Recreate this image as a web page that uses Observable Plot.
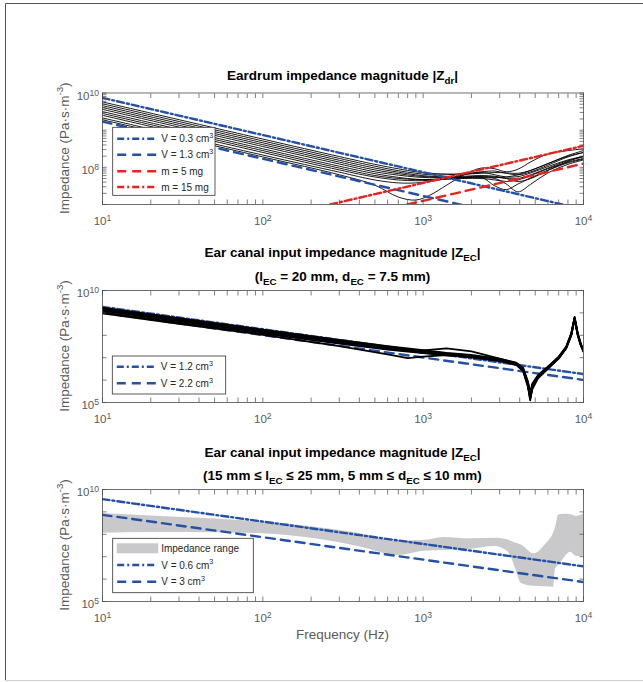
<!DOCTYPE html>
<html><head><meta charset="utf-8">
<script src="https://cdn.jsdelivr.net/npm/d3@7"></script>
<script src="https://cdn.jsdelivr.net/npm/@observablehq/plot@0.6"></script>
<style>
body{margin:0;background:#fff;}
#fig{position:relative;width:643px;height:682px;overflow:hidden;background:#fff;}
</style></head>
<body><div id="fig"></div>
<script>
// ---------- data ----------
const xTickLabels = [10, 100, 1000, 10000];
const yLabels1 = [1e8, 1e10];
const yLabels23 = [1e5, 1e10];
const yDecades23 = [1e5, 1e6, 1e7, 1e8, 1e9, 1e10];

// Panel 1: eardrum impedance curves (log10 of |Z|)
const drumFreq = [10,100,300,500,700,900,1100,1400,1800,2300,2800,3300,3900,4700,6000,8000,10000];
const drumLog = [
  [9.76,8.76,8.29,8.08,7.96,7.88,7.84,7.82,7.82,7.84,7.86,7.85,7.84,7.92,8.10,8.32,8.45],
  [9.71,8.71,8.24,8.03,7.91,7.84,7.80,7.80,7.83,7.88,7.90,7.84,7.80,7.88,8.06,8.28,8.40],
  [9.66,8.66,8.19,7.98,7.87,7.80,7.76,7.75,7.76,7.78,7.76,7.70,7.62,7.70,7.92,8.16,8.30],
  [9.61,8.61,8.14,7.93,7.83,7.77,7.74,7.73,7.72,7.72,7.70,7.55,7.34,7.55,7.85,8.08,8.20],
  [9.56,8.56,8.09,7.88,7.79,7.74,7.72,7.72,7.73,7.74,7.73,7.74,7.80,7.92,8.10,8.30,8.40],
  [9.50,8.50,8.03,7.83,7.73,7.68,7.67,7.69,7.72,7.75,7.74,7.70,7.70,7.80,7.98,8.18,8.28],
  [9.45,8.45,7.98,7.78,7.70,7.67,7.67,7.70,7.74,7.74,7.50,7.40,7.55,7.72,7.92,8.12,8.22],
  [9.40,8.40,7.93,7.74,7.66,7.64,7.65,7.68,7.70,7.70,7.66,7.62,7.66,7.78,7.96,8.14,8.24],
  [9.33,8.33,7.87,7.66,7.58,7.58,7.62,7.70,7.80,7.86,7.80,7.74,7.75,7.85,8.02,8.20,8.30],
  [9.28,8.28,7.80,7.52,7.20,7.12,7.25,7.52,7.80,7.98,7.96,7.88,7.95,8.15,8.36,8.45,8.50]
];
const drumV03 = {f: [10, 10000], z: [7.4e9, 7.4e6]};
const drumV13 = {f: [10, 10000], z: [1.7e9, 1.7e6]};
const drumM5  = {f: [795, 10000], z: [1e7, 1.26e8]};
const drumM15 = {f: [263, 10000], z: [1e7, 3.8e8]};

// Panel 2: ear canal input impedance (log10 of |Z|)
const canalFreq = [10,30,100,300,600,800,1000,1400,2000,3000,3800,4200,4500,4650,4800,5200,6000,7000,7800,8400,8800,9200,9600,10000];
const canalLog = [
  [9.24,8.77,8.25,7.79,7.52,7.42,7.34,7.22,7.12,6.95,6.78,6.55,5.95,5.45,5.85,6.22,6.60,7.04,7.50,8.10,8.82,8.10,7.64,7.34],
  [9.19,8.72,8.20,7.75,7.48,7.38,7.30,7.19,7.09,6.92,6.75,6.50,5.85,5.30,5.78,6.18,6.58,7.02,7.47,8.07,8.78,8.07,7.62,7.32],
  [9.14,8.67,8.16,7.71,7.44,7.34,7.26,7.16,7.06,6.90,6.72,6.47,5.80,5.15,5.72,6.15,6.55,7.00,7.45,8.05,8.76,8.05,7.60,7.30],
  [9.09,8.62,8.12,7.67,7.40,7.30,7.22,7.13,7.03,6.87,6.70,6.44,5.75,5.10,5.66,6.12,6.53,6.98,7.43,8.03,8.74,8.03,7.58,7.28],
  [9.02,8.56,8.07,7.63,7.36,7.27,7.20,7.11,7.01,6.85,6.68,6.40,5.70,5.20,5.60,6.08,6.50,6.96,7.41,8.00,8.72,8.00,7.56,7.26],
  [8.98,8.51,8.02,7.52,7.15,6.98,7.05,7.12,7.06,6.90,6.72,6.46,5.78,5.25,5.70,6.13,6.54,6.99,7.44,8.04,8.75,8.04,7.59,7.29],
  [9.17,8.70,8.18,7.72,7.44,7.36,7.33,7.42,7.28,6.96,6.76,6.52,5.88,5.35,5.80,6.20,6.59,7.03,7.48,8.08,8.80,8.08,7.63,7.33]
];
const canalV12 = {f: [10, 10000], z: [1.86e9, 1.86e6]};
const canalV22 = {f: [10, 10000], z: [1.02e9, 1.02e6]};

// Panel 3: impedance range band (log10 of |Z|)
const rangeFreq = [10,20,50,100,200,400,700,1000,1350,2000,2800,3400,3800,4100,4900,5800,6500,6700,7000,7500,8300,9000,10000];
const rangeHighLog = [8.93,8.82,8.68,8.55,8.34,8.04,7.70,7.72,7.86,7.80,7.82,7.74,7.60,7.52,7.13,7.55,8.05,8.30,8.86,8.90,8.88,8.80,8.90];
const rangeLowLog  = [8.05,8.08,8.07,8.03,7.82,7.44,7.05,7.24,7.28,7.33,7.45,7.20,6.40,5.80,5.68,5.66,5.64,6.45,6.62,6.90,7.20,7.02,7.00];
const rangeV06 = {f: [10, 10000], z: [3.7e9, 3.7e6]};
const rangeV3  = {f: [10, 10000], z: [7.4e8, 7.4e5]};

// ---------- styling ----------
const FONT = '"Liberation Sans", Arial, Helvetica, sans-serif';
const BLUE = "#2451a6", RED = "#e8221f", GRAY = "#c9c9cb", AXIS = "#4a4a4a", TXT = "#5a5a5a";
const DASH = "9,6", DASHDOT = "7,3,2,3";
const LW = 2.4;

const toRows = s => s.f.map((f, i) => ({f, z: s.z[i]}));
const curveRows = (freq, logs) => logs.flatMap((c, k) => c.map((v, i) => ({id: k, f: freq[i], z: 10 ** v})));
const straight = (s, stroke, dash) => Plot.line(toRows(s), {x: "f", y: "z", stroke, strokeWidth: LW, strokeDasharray: dash, clip: true});

const fig = document.getElementById("fig");

function addPanel({top, bottom, yDomain, yTicks, yLabels, marks}) {
  const svg = Plot.plot({
    width: 643, height: 682,
    marginLeft: 102, marginRight: 60, marginTop: top, marginBottom: 682 - bottom,
    x: {type: "log", domain: [10, 1e4]},
    y: {type: "log", domain: yDomain},
    style: {background: "transparent", fontFamily: FONT, fontSize: "11.5px", color: TXT, overflow: "visible"},
    marks: [
      ...marks,
      Plot.frame({stroke: AXIS, strokeWidth: 0.8}),
      Plot.axisX({anchor: "bottom", tickSize: 4.5, dy: -4.5, tickFormat: () => "", label: null, stroke: AXIS, strokeWidth: 0.7}),
      Plot.axisX({anchor: "top", tickSize: 4.5, dy: 4.5, tickFormat: () => "", label: null, stroke: AXIS, strokeWidth: 0.7}),
      Plot.axisY({anchor: "left", ticks: yTicks, tickSize: 4.5, dx: 4.5, tickFormat: () => "", label: null, stroke: AXIS, strokeWidth: 0.7}),
      Plot.axisY({anchor: "right", ticks: yTicks, tickSize: 4.5, dx: -4.5, tickFormat: () => "", label: null, stroke: AXIS, strokeWidth: 0.7}),
      Plot.axisX({anchor: "bottom", ticks: xTickLabels, tickSize: 0, tickPadding: 12.5, tickFormat: d => "10^" + Math.round(Math.log10(d)), label: null, fill: TXT}),
      Plot.axisY({anchor: "left", ticks: yLabels, tickSize: 0, tickPadding: 3.5, dy: 3, tickFormat: d => "10^" + Math.round(Math.log10(d)), label: null, fill: TXT})
    ]
  });
  d3.select(svg).selectAll("text").each(function() {
    const m = /^10\^(\d+)$/.exec(this.textContent);
    if (!m) return;
    const sel = d3.select(this);
    sel.text(null);
    sel.append("tspan").text("10");
    sel.append("tspan").attr("dy", "-0.45em").attr("font-size", "0.75em").text(m[1]);
  });
  svg.style.position = "absolute"; svg.style.left = "0px"; svg.style.top = "0px";
  fig.appendChild(svg);
}

// Panel 1
addPanel({
  top: 92.5, bottom: 204, yDomain: [1e7, 1e10], yTicks: 10, yLabels: yLabels1,
  marks: [
    Plot.line(curveRows(drumFreq, drumLog), {x: "f", y: "z", z: "id", stroke: "#000", strokeWidth: 0.9, curve: "catmull-rom", clip: true}),
    straight(drumV03, BLUE, DASHDOT),
    straight(drumV13, BLUE, DASH),
    straight(drumM5, RED, DASH),
    straight(drumM15, RED, DASHDOT)
  ]
});
// Panel 2
addPanel({
  top: 290, bottom: 402, yDomain: [1e5, 1e10], yTicks: yDecades23, yLabels: yLabels23,
  marks: [
    straight(canalV12, BLUE, DASHDOT),
    straight(canalV22, BLUE, DASH),
    Plot.line(curveRows(canalFreq, canalLog), {x: "f", y: "z", z: "id", stroke: "#000", strokeWidth: 1.8, curve: "linear", clip: true})
  ]
});
// Panel 3
addPanel({
  top: 489, bottom: 601, yDomain: [1e5, 1e10], yTicks: yDecades23, yLabels: yLabels23,
  marks: [
    Plot.areaY(rangeFreq.map((f, i) => ({f, lo: 10 ** rangeLowLog[i], hi: 10 ** rangeHighLog[i]})), {x: "f", y1: "lo", y2: "hi", fill: GRAY, curve: "monotone-x", clip: true}),
    straight(rangeV06, BLUE, DASHDOT),
    straight(rangeV3, BLUE, DASH)
  ]
});

// ---------- overlay: titles, labels, legends ----------
const ov = d3.select(fig).append("svg")
  .attr("width", 643).attr("height", 682)
  .style("position", "absolute").style("left", "0px").style("top", "0px")
  .attr("font-family", FONT);

ov.append("path").attr("d", "M5.5,681 V3.5 H643").attr("fill", "none").attr("stroke", "#555").attr("stroke-width", 1);
ov.append("line").attr("x1", 5).attr("x2", 643).attr("y1", 680.5).attr("y2", 680.5).attr("stroke", "#d0d0d0");

function rich(g, segs, size, opts = {}) {
  const t = g.append("text").attr("font-size", size).attr("text-anchor", opts.anchor || "middle")
    .attr("fill", opts.fill || "#000").attr("font-weight", opts.weight || "normal");
  if (opts.transform) t.attr("transform", opts.transform); else t.attr("x", opts.x).attr("y", opts.y);
  let shift = 0;
  for (const [txt, kind] of segs) {
    const ts = t.append("tspan").text(txt);
    const target = kind === "sub" ? size * 0.3 : kind === "sup" ? -size * 0.42 : 0;
    if (target !== shift) ts.attr("dy", target - shift);
    shift = target;
    if (kind) ts.attr("font-size", size * 0.72);
  }
  return t;
}

const TS = 13.5;
rich(ov, [["Eardrum impedance magnitude |Z"], ["dr", "sub"], ["|"]], TS, {x: 342.5, y: 79.5, weight: "bold"});
rich(ov, [["Ear canal input impedance magnitude |Z"], ["EC", "sub"], ["|"]], TS, {x: 342.5, y: 257, weight: "bold"});
rich(ov, [["(l"], ["EC", "sub"], [" = 20 mm, d"], ["EC", "sub"], [" = 7.5 mm)"]], TS, {x: 342.5, y: 281, weight: "bold"});
rich(ov, [["Ear canal input impedance magnitude |Z"], ["EC", "sub"], ["|"]], TS, {x: 342.5, y: 457, weight: "bold"});
rich(ov, [["(15 mm \u2264 l"], ["EC", "sub"], [" \u2264 25 mm, 5 mm \u2264 d"], ["EC", "sub"], [" \u2264 10 mm)"]], TS, {x: 342.5, y: 480, weight: "bold"});

for (const cy of [148.25, 346, 545]) {
  rich(ov, [["Impedance (Pa\u00b7s\u00b7m"], ["-3", "sup"], [")"]], TS, {transform: `translate(68.5,${cy}) rotate(-90)`, fill: TXT});
}
rich(ov, [["Frequency (Hz)"]], TS, {x: 342.5, y: 639, fill: TXT});

// legends
const legend1 = [
  {label: "V = 0.3 cm", sup: "3", stroke: BLUE, dash: DASHDOT},
  {label: "V = 1.3 cm", sup: "3", stroke: BLUE, dash: DASH},
  {label: "m = 5 mg", stroke: RED, dash: DASH},
  {label: "m = 15 mg", stroke: RED, dash: DASHDOT}
];
const legend2 = [
  {label: "V = 1.2 cm", sup: "3", stroke: BLUE, dash: DASHDOT},
  {label: "V = 2.2 cm", sup: "3", stroke: BLUE, dash: DASH}
];
const legend3 = [
  {label: "Impedance range", patch: GRAY},
  {label: "V = 0.6 cm", sup: "3", stroke: BLUE, dash: DASHDOT},
  {label: "V = 3 cm", sup: "3", stroke: BLUE, dash: DASH}
];

function drawLegend(box, rows, items) {
  ov.append("rect").attr("x", box[0]).attr("y", box[1]).attr("width", box[2]).attr("height", box[3])
    .attr("fill", "#fff").attr("stroke", "#333").attr("stroke-width", 0.8);
  items.forEach((it, i) => {
    const cy = rows[i];
    if (it.patch) {
      ov.append("rect").attr("x", box[0] + 4).attr("y", cy - 5).attr("width", 41.6).attr("height", 10).attr("fill", it.patch);
    } else {
      ov.append("line").attr("x1", box[0] + 4.5).attr("x2", box[0] + 44.5).attr("y1", cy).attr("y2", cy)
        .attr("stroke", it.stroke).attr("stroke-width", LW).attr("stroke-dasharray", it.dash);
    }
    const segs = [[it.label]];
    if (it.sup) segs.push([it.sup, "sup"]);
    rich(ov, segs, 10, {x: box[0] + 48.5, y: cy + 3.6, anchor: "start", fill: "#262626"});
  });
}
drawLegend([112.7, 127.3, 102.3, 68], [138.7, 154.7, 171.3, 187], legend1);
drawLegend([112.3, 356, 113.4, 38], [366.7, 383.3], legend2);
drawLegend([112.7, 538.3, 140.6, 54.4], [548.3, 565, 581.7], legend3);
</script>
</body></html>
